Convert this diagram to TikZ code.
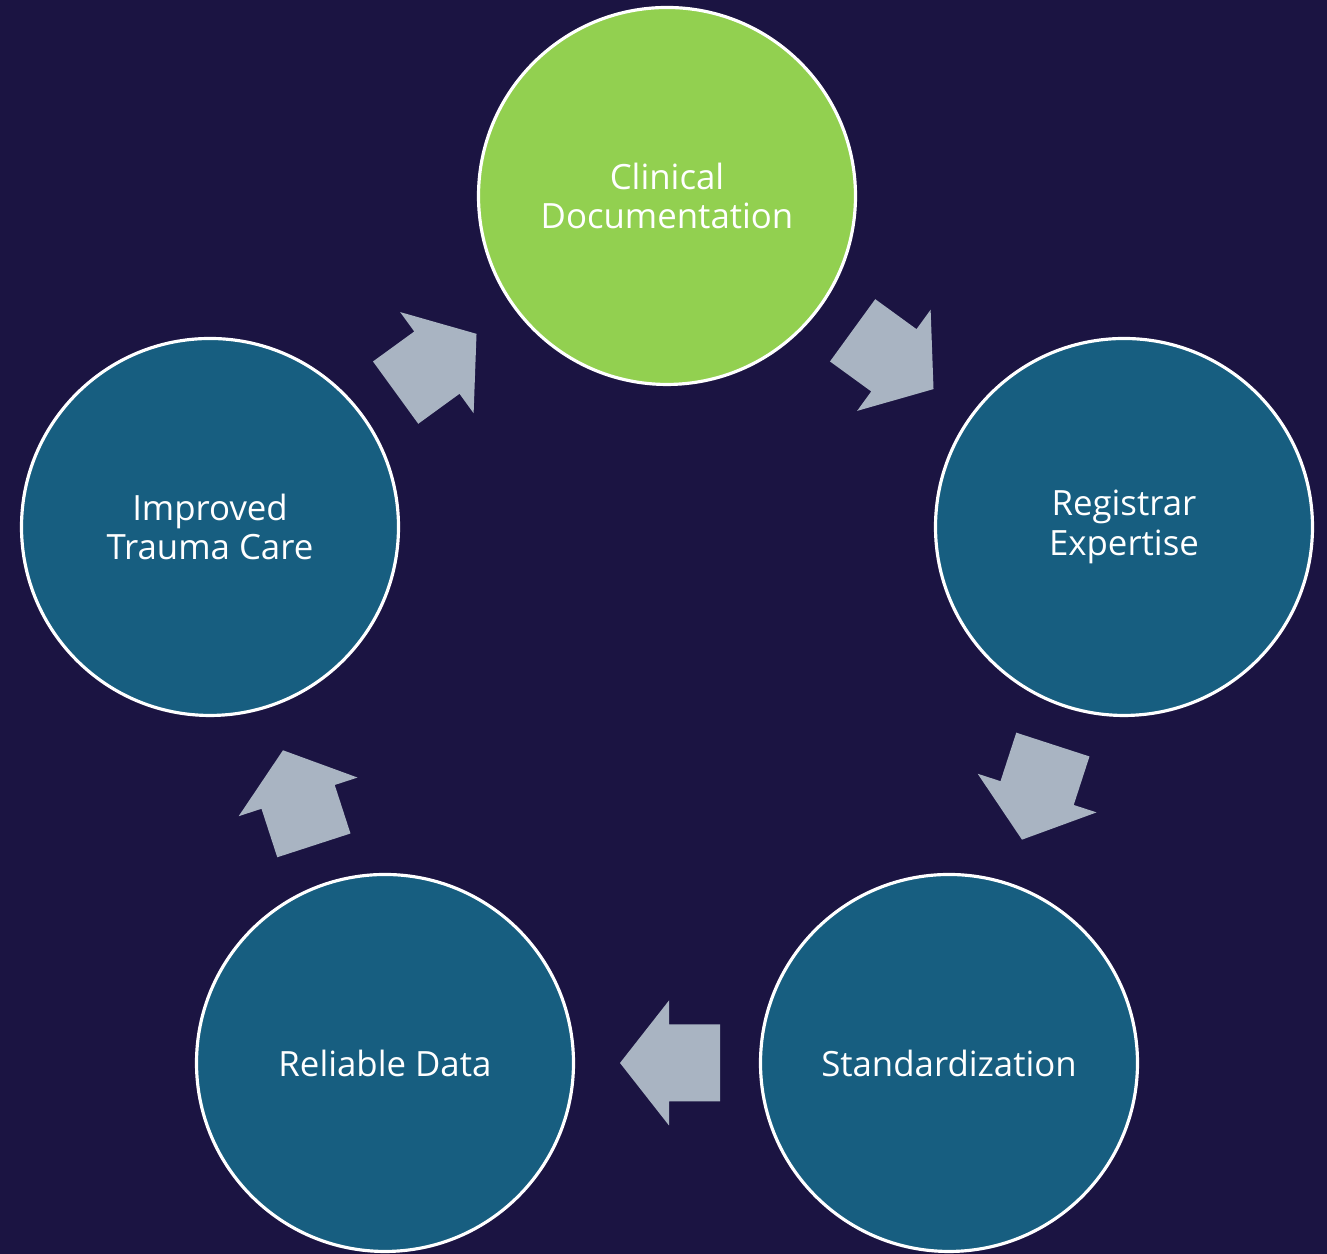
\documentclass[tikz,border=0pt]{standalone}
\usepackage{fontspec}
\setmainfont{Open Sans}
\usepackage{tikz}
\usetikzlibrary{calc}

\definecolor{bgnavy}{RGB}{27,20,66}
\definecolor{stepteal}{RGB}{23,94,128}
\definecolor{stepgreen}{RGB}{146,208,80}
\definecolor{arrowgrey}{RGB}{169,180,194}

\tikzset{
  cyclenode/.style={circle,draw=white,line width=0.9pt,fill=stepteal,
    minimum size=3.77cm,inner sep=0pt,text=white,align=center,
    font=\fontsize{9.9}{11.3}\selectfont},
  cyclearrow/.pic={
    \fill[arrowgrey] (-0.53,-0.385) -- (-0.02,-0.385) -- (-0.02,-0.625) -- (0.47,0)
      -- (-0.02,0.625) -- (-0.02,0.385) -- (-0.53,0.385) -- cycle;
  }
}

\begin{document}
\begin{tikzpicture}
\fill[bgnavy] (0,0) rectangle (13.27,12.54);
\useasboundingbox (0,0) rectangle (13.27,12.54);

% the five steps of the cycle
\node[cyclenode,fill=stepgreen] (doc) at (6.67,10.58) {Clinical\\Documentation};
\node[cyclenode] (reg) at (11.24,7.27) {Registrar\\Expertise};
\node[cyclenode] (std) at (9.49,1.91) {Standardization};
\node[cyclenode] (rel) at (3.85,1.91) {Reliable Data};
\node[cyclenode] (imp) at (2.10,7.27) {Improved\\Trauma Care};

% block arrows between the steps
\foreach \a/\b/\r in {doc/reg/-36,reg/std/-108,std/rel/180,rel/imp/108,imp/doc/36}
  \pic[rotate=\r] at ($(\a)!0.5!(\b)$) {cyclearrow};

\end{tikzpicture}
\end{document}
